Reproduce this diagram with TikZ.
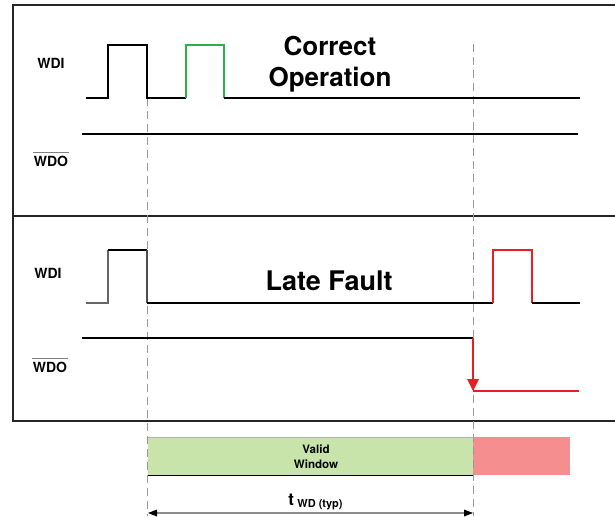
\documentclass[tikz,border=0pt]{standalone}
\usepackage{fontspec}
\setmainfont{TeX Gyre Heros}
\definecolor{okgreen}{RGB}{40,178,72}
\definecolor{faultred}{RGB}{232,30,36}
\definecolor{validfill}{RGB}{200,228,170}
\definecolor{latefill}{RGB}{245,143,143}

\begin{document}
\begin{tikzpicture}[x=0.5pt,y=-0.5pt]
\tikzstyle{every node}+=[inner sep=0pt, font=\bfseries]
\tikzstyle{wave}=[black, line width=1pt]
\tikzstyle{guide}=[black!40, line width=0.5pt, dash pattern=on 4pt off 2.5pt]
\tikzstyle{frame}=[black!85, line width=0.8pt]
\tikzstyle{sig}=[font=\bfseries\fontsize{7}{8}\selectfont]
\tikzstyle{title}=[font=\bfseries\fontsize{13}{15.5}\selectfont, align=center]

\clip (0,0) rectangle (615,516);

% frames
\draw [frame] (13,5) rectangle (640,216);
\draw [frame] (13,216) rectangle (640,421);

% window bar
\fill [validfill] (148,437) rectangle (473,475);
\fill [latefill] (473,437) rectangle (570,475);
\draw [black!30, line width=0.4pt] (148,437) -- (473,437);
\draw [black, line width=0.5pt] (148,475) -- (473,475);
\node (valid) at (316,456.5) [font=\bfseries\fontsize{5.8}{7.5}\selectfont, align=center] {Valid\\Window};

% guides
\coordinate (kickA) at (147,98);
\coordinate (kickB) at (473,44);
\coordinate (kickAend) at (147,516);
\coordinate (kickBend) at (473,516);
\draw [guide] (kickA) -- (kickAend);
\draw [guide] (kickB) -- (kickBend);

% correct operation
\draw [wave] (86,98) -- (108,98) -- (108,45) -- (147,45) -- (147,98) -- (186,98);
\draw [wave, okgreen] (186,98) -- (186,45) -- (224,45) -- (224,98);
\draw [wave] (224,98) -- (580,98);
\draw [wave] (82,134) -- (578,134);
\node (wdiA) [sig] at (51,63) {WDI};
\node (wdoA) [sig] at (51,161) {WDO};
\draw [black!50, line width=0.4pt] ([yshift=1.5pt]wdoA.north west) -- ([yshift=1.5pt]wdoA.north east);
\node (correct) [title] at (330,64) {Correct\\Operation};

% late fault
\draw [wave, line width=0.6pt, black!60] (86,303) -- (108,303) -- (108,250);
\draw [wave] (108,250) -- (147,250);
\draw [wave, line width=0.6pt, black!70] (147,250) -- (147,303);
\draw [wave] (147,303) -- (493,303);
\draw [wave, faultred] (493,303) -- (493,250) -- (532,250) -- (532,303);
\draw [wave] (532,303) -- (580,303);
\draw [wave] (82,338) -- (473,338);
\draw [wave, faultred] (473,338) -- (473,381);
\fill [faultred] (473,391) -- (467,379) -- (479,379) -- cycle;
\draw [wave, faultred, line width=0.8pt] (473,391) -- (579,391);
\node (wdiB) [sig] at (48,273) {WDI};
\node (wdoB) [sig] at (50,367) {WDO};
\draw [black!50, line width=0.4pt] ([yshift=1.5pt]wdoB.north west) -- ([yshift=1.5pt]wdoB.north east);
\node (late) [title, font=\bfseries\fontsize{13.5}{15.5}\selectfont] at (329,281) {Late Fault};

% timeout
\draw [black!45, line width=0.6pt] (156,513) -- (465,513);
\fill [black] (148,513) -- (157,509.5) -- (157,516.5) -- cycle;
\fill [black] (473,513) -- (464,509.5) -- (464,516.5) -- cycle;
\node (twd) [anchor=base west] at (288,505) {{\fontsize{8.5}{10}\selectfont t}\,\raisebox{-1pt}{\fontsize{5.5}{6}\selectfont WD (typ)}};
\end{tikzpicture}
\end{document}
